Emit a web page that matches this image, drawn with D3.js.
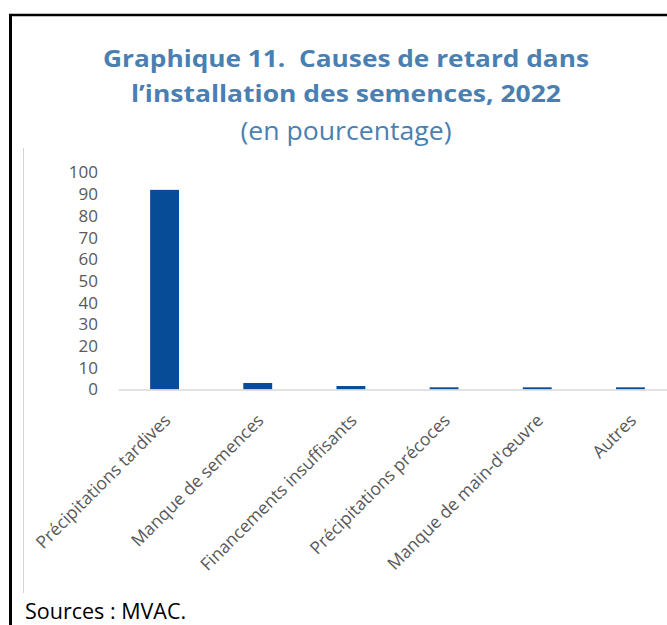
<!DOCTYPE html>
<html>
<head>
<meta charset="utf-8">
<script src="https://cdn.jsdelivr.net/npm/d3@7"></script>
<style>
  html, body { margin: 0; padding: 0; background: #fff; }
  svg { display: block; }
</style>
</head>
<body>
<script>
// Causes de retard dans l'installation des semences, 2022 (%)
const categories = [
  "Précipitations tardives",
  "Manque de semences",
  "Financements insuffisants",
  "Précipitations précoces",
  "Manque de main-d'œuvre",
  "Autres"
];
const values = [92, 3, 1.6, 1, 1, 1];
const yTicks = [0, 10, 20, 30, 40, 50, 60, 70, 80, 90, 100];
const titleLines = ["Graphique 11.  Causes de retard dans", "l\u2019installation des semences, 2022"];
const subtitle = "(en pourcentage)";
const source = "Sources : MVAC.";

const W = 667, H = 625;
const FONT = "'Open Sans', 'Noto Sans', sans-serif";
const BAR = "#064c97", TITLE = "#4a7fb2", GREY = "#595959", AXIS = "#d9d9d9";

const svg = d3.select("body").append("svg").attr("width", W).attr("height", H);
svg.append("rect").attr("width", W).attr("height", H).attr("fill", "#fff");

// Frame: top and left rules
svg.append("line").attr("x1", 9).attr("x2", W).attr("y1", 15).attr("y2", 15)
  .attr("stroke", "#000").attr("stroke-width", 2.5);
svg.append("line").attr("x1", 10.5).attr("x2", 10.5).attr("y1", 14).attr("y2", H)
  .attr("stroke", "#000").attr("stroke-width", 3);
// Plot area left edge
svg.append("line").attr("x1", 23.5).attr("x2", 23.5).attr("y1", 148).attr("y2", 593)
  .attr("stroke", "#d4d4d4").attr("stroke-width", 1);

// Titles
const cx = 346;
const tl = [{t: titleLines[0], y: 67, w: 486}, {t: titleLines[1], y: 102, w: 430}];
tl.forEach(d => {
  svg.append("text").attr("x", cx).attr("y", d.y).attr("text-anchor", "middle")
    .attr("font-family", FONT).attr("font-weight", 700).attr("font-size", 24)
    .attr("fill", TITLE).attr("textLength", d.w).attr("lengthAdjust", "spacingAndGlyphs")
    .style("white-space", "pre")
    .text(d.t);
});
svg.append("text").attr("x", cx).attr("y", 140).attr("text-anchor", "middle")
  .attr("font-family", FONT).attr("font-size", 25).attr("fill", TITLE)
  .attr("textLength", 211).attr("lengthAdjust", "spacingAndGlyphs")
  .text(subtitle);

// Scales
const x = d3.scaleBand().domain(categories).range([118, 677]).paddingInner(0.69).paddingOuter(0.345);
const y = d3.scaleLinear().domain([0, 100]).range([389.5, 172.5]);

// Y axis labels
const yAxis = svg.append("g").attr("transform", "translate(98,0)")
  .call(d3.axisLeft(y).tickValues(yTicks).tickSize(0).tickPadding(0));
yAxis.select(".domain").remove();
yAxis.selectAll("text").attr("font-family", FONT).attr("font-size", 17).attr("fill", GREY);

// Bars
svg.append("g").selectAll("rect").data(values).join("rect")
  .attr("x", (d, i) => x(categories[i]))
  .attr("width", x.bandwidth())
  .attr("y", d => y(d))
  .attr("height", d => y(0) - y(d))
  .attr("fill", BAR);

// X axis
const xAxis = svg.append("g").attr("transform", `translate(0,${y(0)})`)
  .call(d3.axisBottom(x).tickSize(0).tickPadding(0));
xAxis.select(".domain").attr("stroke", AXIS).attr("stroke-width", 1.5);
xAxis.selectAll("text")
  .attr("font-family", FONT).attr("font-size", 17.5).attr("fill", GREY)
  .attr("text-anchor", "end")
  .attr("dy", 0)
  .attr("transform", "translate(7,32) rotate(-45)");

// Source note
svg.append("text").attr("x", 25).attr("y", 619)
  .attr("font-family", FONT).attr("font-size", 21.5).attr("fill", "#000")
  .text(source);
</script>
</body>
</html>
